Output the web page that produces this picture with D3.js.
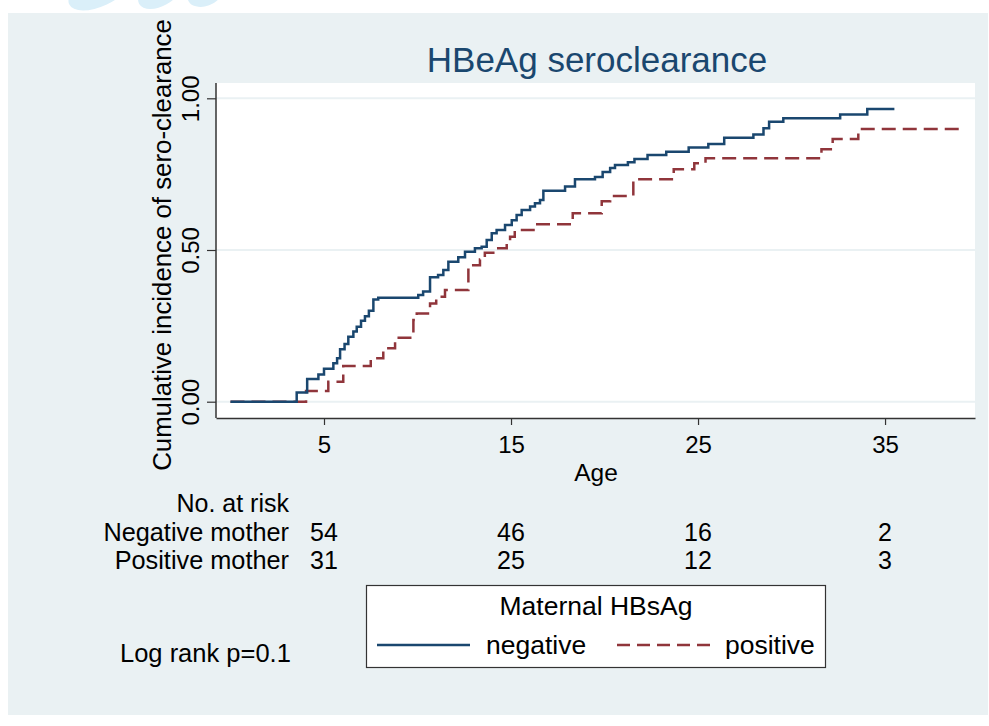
<!DOCTYPE html>
<html>
<head>
<meta charset="utf-8">
<script src="https://cdn.jsdelivr.net/npm/d3@7"></script>
<style>
  body { margin: 0; background: #ffffff; }
  svg text { font-family: "Liberation Sans", Arial, sans-serif; fill: #000; }
</style>
</head>
<body>
<svg id="chart" width="989" height="726"></svg>
<script>
// Kaplan-Meier cumulative incidence (age, value at step)
var negAge = [0, 3.54, 4.1, 4.7, 5.0, 5.5, 5.7, 5.86, 6.1, 6.3, 6.57, 6.75, 6.98, 7.19, 7.4, 7.64, 7.9,
              10.04, 10.3, 10.67, 11.1, 11.38, 11.65, 12.18, 12.54, 13.07, 13.43, 13.7, 13.97, 14.23, 14.68,
              15.04, 15.3, 15.57, 16.02, 16.28, 16.55, 16.73, 17.89, 18.42, 19.49, 19.9, 20.3, 20.56, 21.25,
              21.6, 22.3, 23.3, 24.5, 25.55, 26.4, 27.96, 28.5, 28.8, 29.56, 32.6, 34.05, 35.5];
var negCum = [0, 0.030, 0.075, 0.090, 0.109, 0.127, 0.143, 0.173, 0.19, 0.214, 0.231, 0.247, 0.267, 0.282, 0.30, 0.337, 0.343,
              0.352, 0.363, 0.41, 0.418, 0.434, 0.461, 0.476, 0.494, 0.506, 0.511, 0.533, 0.555, 0.566, 0.582,
              0.598, 0.615, 0.632, 0.643, 0.654, 0.665, 0.695, 0.709, 0.733, 0.741, 0.757, 0.77, 0.78, 0.789,
              0.80, 0.813, 0.824, 0.838, 0.849, 0.870, 0.881, 0.901, 0.923, 0.934, 0.947, 0.965, 0.965];
var posAge = [0, 4.04, 5.23, 6.03, 7.5, 8.17, 8.8, 9.78, 9.96, 10.67, 11.0, 11.47, 12.72, 13.34, 13.6, 14.23,
              14.77, 14.95, 15.2, 16.28, 18.3, 19.85, 20.3, 21.54, 23.7, 24.8, 25.4, 31.6, 32.2, 33.57, 39.1];
var posCum = [0, 0.035, 0.066, 0.118, 0.143, 0.176, 0.211, 0.269, 0.291, 0.324, 0.346, 0.368, 0.45, 0.469, 0.491, 0.506,
              0.522, 0.544, 0.566, 0.585, 0.621, 0.661, 0.678, 0.733, 0.766, 0.786, 0.802, 0.832, 0.866, 0.899, 0.899];

var xTicks = [5, 15, 25, 35];
var yTicks = [0, 0.5, 1];
var riskNeg = [54, 46, 16, 2];
var riskPos = [31, 25, 12, 3];
var riskRows = ["Negative mother", "Positive mother"];
var legendLabels = ["negative", "positive"];

var navy = "#1a476f";
var maroon = "#90353b";
var bg = "#eaf1f3";

var svg = d3.select("#chart");

// faint watermark fragments at the very top
var marks = [[100, -10, 34, 16, -25], [160, -8, 24, 14, -30], [205, -6, 18, 12, -20]];
svg.selectAll(".wm").data(marks).enter().append("ellipse")
    .attr("class", "wm")
    .attr("cx", function (d) { return d[0]; })
    .attr("cy", function (d) { return d[1]; })
    .attr("rx", function (d) { return d[2]; })
    .attr("ry", function (d) { return d[3]; })
    .attr("transform", function (d) { return "rotate(" + d[4] + "," + d[0] + "," + d[1] + ")"; })
    .attr("fill", "#daeff9");

svg.append("rect")
    .attr("x", 8).attr("y", 13)
    .attr("width", 980).attr("height", 702)
    .attr("fill", bg);

var plotL = 216, plotR = 975, plotT = 83, plotB = 418;
svg.append("rect")
    .attr("x", plotL).attr("y", plotT)
    .attr("width", plotR - plotL).attr("height", plotB - plotT)
    .attr("fill", "#ffffff");

var xScale = d3.scaleLinear().domain([-0.775, 39.81]).range([plotL, plotR]);
var yScale = d3.scaleLinear().domain([0, 1]).range([401.7, 98.3]);

// grid
svg.selectAll(".grid").data(yTicks).enter().append("line")
    .attr("class", "grid")
    .attr("x1", plotL).attr("x2", plotR)
    .attr("y1", function (d) { return yScale(d); })
    .attr("y2", function (d) { return yScale(d); })
    .attr("stroke", bg).attr("stroke-width", 2);

// curves
var line = d3.line()
    .x(function (d) { return xScale(d[0]); })
    .y(function (d) { return yScale(d[1]); })
    .curve(d3.curveStepAfter);

var negData = negAge.map(function (a, i) { return [a, negCum[i]]; });
var posData = posAge.map(function (a, i) { return [a, posCum[i]]; });

svg.append("path")
    .attr("d", line(posData))
    .attr("fill", "none")
    .attr("stroke", maroon)
    .attr("stroke-width", 2.5)
    .attr("stroke-dasharray", "14,7");

svg.append("path")
    .attr("d", line(negData))
    .attr("fill", "none")
    .attr("stroke", navy)
    .attr("stroke-width", 2.5);

// axes
var xAxis = d3.axisBottom(xScale).tickValues(xTicks).tickSize(7).tickSizeOuter(0)
    .tickFormat(d3.format("d"));
var gx = svg.append("g")
    .attr("transform", "translate(0," + plotB + ")")
    .call(xAxis);
gx.select(".domain").attr("stroke", "#333").attr("stroke-width", 1.5);
gx.selectAll(".tick line").attr("stroke", "#333").attr("stroke-width", 1.2);
gx.selectAll(".tick text")
    .attr("y", 18).attr("dy", "0.71em")
    .style("font-size", "24px")
    .style("font-family", "'Liberation Sans', Arial, sans-serif");

var yAxis = d3.axisLeft(yScale).tickValues(yTicks).tickSize(9).tickSizeOuter(0)
    .tickFormat(d3.format(".2f"));
var gy = svg.append("g")
    .attr("transform", "translate(" + plotL + ",0)")
    .call(yAxis);
gy.select(".domain").attr("d", "M0," + plotT + "V" + plotB)
    .attr("stroke", "#333").attr("stroke-width", 1.5);
gy.selectAll(".tick line").attr("stroke", "#333").attr("stroke-width", 1.2);
gy.selectAll(".tick text")
    .attr("x", null).attr("dy", null)
    .attr("transform", "translate(-17,0) rotate(-90)")
    .attr("text-anchor", "middle")
    .style("font-size", "24px")
    .style("font-family", "'Liberation Sans', Arial, sans-serif");

// titles
svg.append("text")
    .attr("x", 597).attr("y", 72)
    .attr("text-anchor", "middle")
    .style("font-size", "35px")
    .style("fill", navy)
    .text("HBeAg seroclearance");

svg.append("text")
    .attr("transform", "translate(171,245) rotate(-90)")
    .attr("text-anchor", "middle")
    .style("font-size", "25.8px")
    .text("Cumulative incidence of sero-clearance");

svg.append("text")
    .attr("x", 596).attr("y", 481)
    .attr("text-anchor", "middle")
    .style("font-size", "24.5px")
    .text("Age");

// number at risk table
svg.append("text")
    .attr("x", 289).attr("y", 512)
    .attr("text-anchor", "end")
    .style("font-size", "25px")
    .text("No. at risk");

var rowY = [541, 569];
svg.selectAll(".rowlab").data(riskRows).enter().append("text")
    .attr("class", "rowlab")
    .attr("x", 289)
    .attr("y", function (d, i) { return rowY[i]; })
    .attr("text-anchor", "end")
    .style("font-size", "25.3px")
    .text(function (d) { return d; });

[riskNeg, riskPos].forEach(function (row, r) {
    svg.selectAll(".risk" + r).data(row).enter().append("text")
        .attr("class", "risk" + r)
        .attr("x", function (d, i) { return xScale(xTicks[i]); })
        .attr("y", rowY[r])
        .attr("text-anchor", "middle")
        .style("font-size", "25px")
        .text(function (d) { return d; });
});

svg.append("text")
    .attr("x", 120).attr("y", 662)
    .style("font-size", "25.5px")
    .text("Log rank p=0.1");

// legend
var legend = svg.append("g");
legend.append("rect")
    .attr("x", 366.5).attr("y", 585.5)
    .attr("width", 459).attr("height", 82)
    .attr("fill", "#ffffff")
    .attr("stroke", "#333").attr("stroke-width", 1.2);
legend.append("text")
    .attr("x", 596).attr("y", 615)
    .attr("text-anchor", "middle")
    .style("font-size", "26.5px")
    .text("Maternal HBsAg");

var legItems = [
    { x1: 377, x2: 470, tx: 486, color: navy, dash: null },
    { x1: 617, x2: 714, tx: 725, color: maroon, dash: "13,7" }
];
legItems.forEach(function (it, i) {
    legend.append("line")
        .attr("x1", it.x1).attr("x2", it.x2)
        .attr("y1", 645).attr("y2", 645)
        .attr("stroke", it.color).attr("stroke-width", 2.5)
        .attr("stroke-dasharray", it.dash);
    legend.append("text")
        .attr("x", it.tx).attr("y", 654)
        .style("font-size", "26.5px")
        .text(legendLabels[i]);
});
</script>
</body>
</html>
